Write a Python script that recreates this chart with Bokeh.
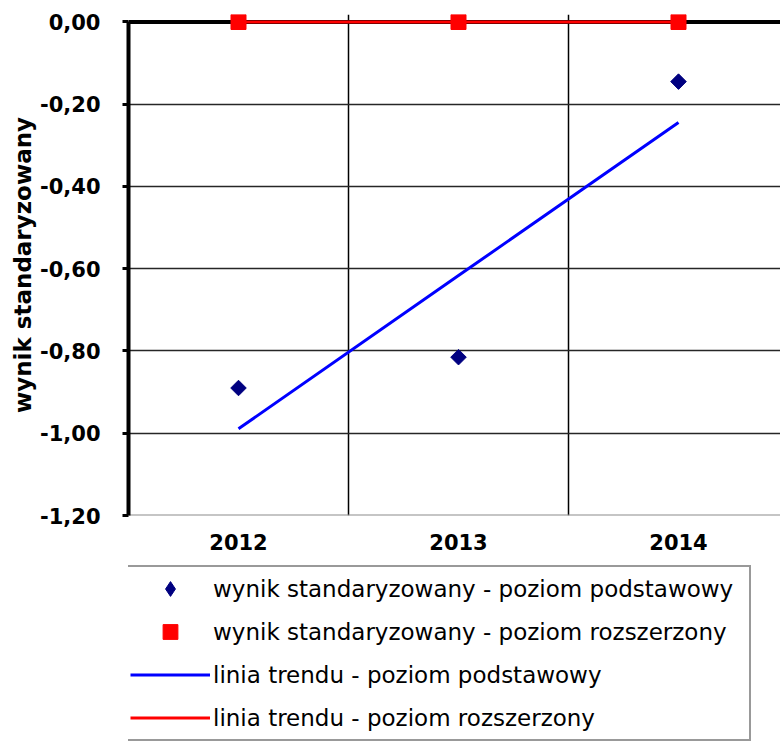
import numpy as np
from bokeh.plotting import figure
from bokeh.layouts import column
from bokeh.models import FixedTicker, CustomJSTickFormatter, Span, Legend, LegendItem
from bokeh.embed import file_html
from bokeh.resources import INLINE

# ---- data ----
years = ["2012", "2013", "2014"]
basic_scores = [-0.89, -0.815, -0.145]      # wynik standaryzowany - poziom podstawowy
extended_scores = [0.0, 0.0, 0.0]           # wynik standaryzowany - poziom rozszerzony
y_ticks = [-1.2, -1.0, -0.8, -0.6, -0.4, -0.2, 0.0]
legend_labels = [
    "wynik standaryzowany - poziom podstawowy",
    "wynik standaryzowany - poziom rozszerzony",
    "linia trendu - poziom podstawowy",
    "linia trendu - poziom rozszerzony",
]

# ---- derived ----
idx = np.arange(len(years))
x_pos = idx + 0.5
trend_basic = np.polyval(np.polyfit(idx, basic_scores, 1), idx)
trend_ext = np.polyval(np.polyfit(idx, extended_scores, 1), idx)

FONT = "DejaVu Sans"
BASIC_COLOR = "#000080"
EXT_COLOR = "#ff0000"
TREND_BASIC_COLOR = "#0000ff"
TREND_EXT_COLOR = "#ff0000"

p = figure(width=780, height=560,
           x_range=(0, 652 / 220), y_range=(-1.2, 0.0182),
           output_backend="svg", toolbar_location=None,
           min_border_left=128, min_border_right=0,
           min_border_top=14, min_border_bottom=45)
p.outline_line_color = None
p.background_fill_color = "white"
p.border_fill_color = "white"

# y axis
yax = p.yaxis[0]
yax.ticker = FixedTicker(ticks=y_ticks)
yax.formatter = CustomJSTickFormatter(code="return tick.toFixed(2).replace('.', ',');")
yax.bounds = (-1.2, 0)
yax.axis_line_width = 4
yax.axis_line_color = "black"
yax.major_tick_out = 6
yax.major_tick_in = 0
yax.major_tick_line_width = 3
yax.major_tick_line_color = "black"
yax.minor_tick_line_color = None
yax.major_label_text_font = FONT
yax.major_label_text_font_size = "21px"
yax.major_label_text_font_style = "bold"
yax.major_label_text_color = "black"
yax.major_label_standoff = 22
yax.axis_label = "wynik standaryzowany"
yax.axis_label_text_font = FONT
yax.axis_label_text_font_size = "23px"
yax.axis_label_text_font_style = "bold"
yax.axis_label_text_color = "black"
yax.axis_label_standoff = 1

# x axis
xax = p.xaxis[0]
xax.ticker = FixedTicker(ticks=list(x_pos))
xax.formatter = CustomJSTickFormatter(args=dict(labels=years),
                                      code="return labels[Math.floor(tick)];")
xax.axis_line_color = None
xax.major_tick_line_color = None
xax.minor_tick_line_color = None
xax.major_label_text_font = FONT
xax.major_label_text_font_size = "21px"
xax.major_label_text_font_style = "bold"
xax.major_label_text_color = "black"
xax.major_label_standoff = 12

# grids
p.xgrid.ticker = FixedTicker(ticks=list(range(1, len(years))))
p.xgrid.grid_line_color = "black"
p.xgrid.grid_line_width = 1.5
p.ygrid.ticker = FixedTicker(ticks=y_ticks[1:-1])
p.ygrid.grid_line_color = "#262626"
p.ygrid.grid_line_width = 1.5

p.add_layout(Span(location=y_ticks[0], dimension="width", line_color="#8c8c8c",
                  line_width=2, level="underlay"))
p.add_layout(Span(location=0, dimension="width", line_color="black",
                  line_width=4, level="underlay"))

# glyphs
p.line(x_pos, trend_basic, line_color=TREND_BASIC_COLOR, line_width=3)
p.line(x_pos, trend_ext, line_color=TREND_EXT_COLOR, line_width=3)
p.scatter(x_pos, basic_scores, marker="square", angle=np.pi / 4, size=11,
          fill_color=BASIC_COLOR, line_color=BASIC_COLOR)
p.scatter(x_pos, extended_scores, marker="square", size=15,
          fill_color=EXT_COLOR, line_color=EXT_COLOR)

# ---- legend strip below the chart (frames are aligned by the column) ----
lg = figure(width=780, height=182, x_range=(0, 3), y_range=(-1.2, 0.0182),
            output_backend="svg", toolbar_location=None,
            x_axis_type=None, y_axis_type=None,
            min_border_left=0, min_border_right=0,
            min_border_top=0, min_border_bottom=0)
lg.outline_line_color = None
lg.background_fill_color = "white"
lg.border_fill_color = "white"

# hidden copies of the series: they only supply the legend swatches
k_b = lg.scatter(x_pos, basic_scores, marker="diamond", size=11,
                 fill_color=BASIC_COLOR, line_color=BASIC_COLOR, visible=False)
k_e = lg.scatter(x_pos, extended_scores, marker="square", size=15,
                 fill_color=EXT_COLOR, line_color=EXT_COLOR, visible=False)
k_tb = lg.line(x_pos, trend_basic, line_color=TREND_BASIC_COLOR, line_width=3,
               visible=False)
k_te = lg.line(x_pos, trend_ext, line_color=TREND_EXT_COLOR, line_width=3,
               visible=False)

legend = Legend(items=[LegendItem(label=legend_labels[0], renderers=[k_b]),
                       LegendItem(label=legend_labels[1], renderers=[k_e]),
                       LegendItem(label=legend_labels[2], renderers=[k_tb]),
                       LegendItem(label=legend_labels[3], renderers=[k_te])],
                location=(-3, 1), padding=3, spacing=6,
                glyph_width=80, glyph_height=37, label_height=22,
                label_width=533, label_standoff=3, margin=0,
                click_policy="none",
                label_text_font=FONT, label_text_font_size="23px",
                label_text_color="black",
                border_line_color="#333333", border_line_width=2,
                background_fill_color="white", background_fill_alpha=1)
lg.add_layout(legend)

layout = column(p, lg, spacing=0)
open("out.html", "w").write(file_html(layout, INLINE))
